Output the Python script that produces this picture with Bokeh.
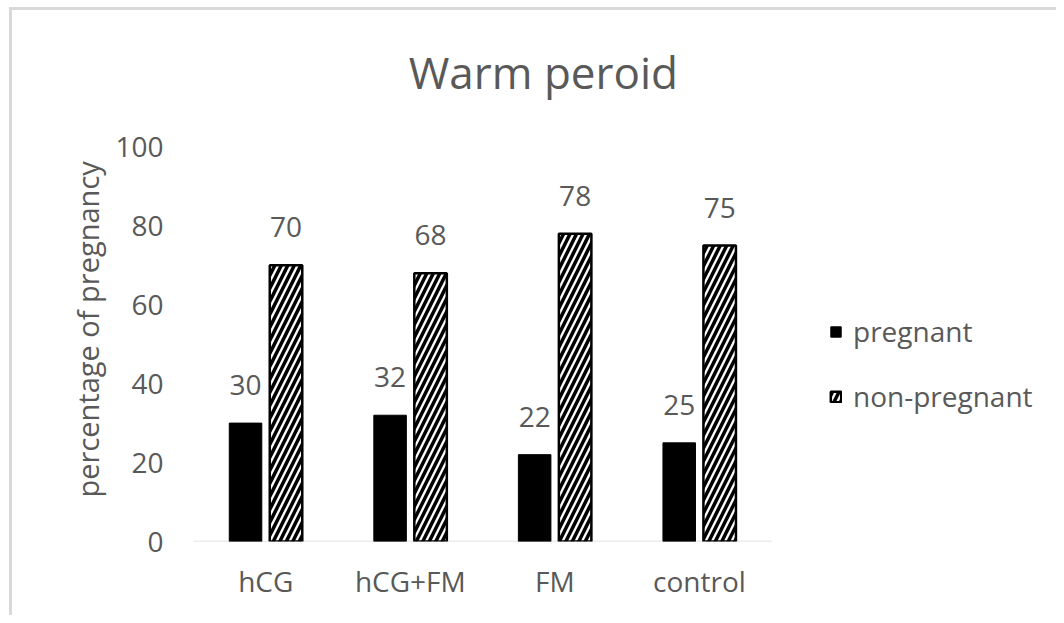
from bokeh.plotting import figure
from bokeh.models import ColumnDataSource, Range1d, Legend, LegendItem, FixedTicker, Label, Title
from bokeh.transform import dodge
from bokeh.core.properties import value
from bokeh.embed import file_html
from bokeh.resources import INLINE

categories = ["hCG", "hCG+FM", "FM", "control"]
pregnant = [30, 32, 22, 25]
non_pregnant = [70, 68, 78, 75]
y_ticks = [0, 20, 40, 60, 80, 100]

FONT = "Open Sans"
TXT = "#595959"

xpos = [i + 0.5 for i in range(len(categories))]
src = ColumnDataSource(dict(
    x=xpos,
    preg=pregnant,
    nonp=non_pregnant,
    preg_lbl=[str(v) for v in pregnant],
    nonp_lbl=[str(v) for v in non_pregnant],
))

# frame spans from the value axis to the right edge; headroom above 100 holds the title
p = figure(width=1056, height=615, x_range=Range1d(0, 5.97), y_range=Range1d(0, 137.1),
           output_backend="svg", toolbar_location=None,
           min_border_left=193, min_border_right=0, min_border_top=0,
           min_border_bottom=74, background_fill_alpha=0, border_fill_alpha=0,
           styles={"box-shadow": "inset 9px 7px 0 0 #ffffff, inset 12px 10px 0 0 #d9d9d9"})
p.outline_line_color = None
p.grid.grid_line_color = None

p.add_layout(Label(x=2.42, y=118.9, text="Warm peroid", text_font=FONT, text_font_size="44px",
                   text_color=TXT, text_align="center", text_baseline="middle"))

# baseline of the category axis (spans the categories only)
p.segment(x0=[0], x1=[len(categories)], y0=[0], y1=[0], line_color="#d9d9d9", line_width=1.5)

r1 = p.vbar(x=dodge("x", -0.14), top="preg", width=0.225, source=src,
            fill_color="black", line_color="black", line_width=1)
r2 = p.vbar(x=dodge("x", 0.14), top="nonp", width=0.225, source=src,
            fill_color="white", line_color="black", line_width=2.5,
            hatch_pattern="right_diagonal_line", hatch_color="black", hatch_weight=3.5, hatch_scale=13)

p.text(x=dodge("x", -0.14), y="preg", text="preg_lbl", source=src,
       text_font=value(FONT), text_font_size="28px", text_color=TXT,
       text_align="center", text_baseline="middle", y_offset=-38)
p.text(x=dodge("x", 0.14), y="nonp", text="nonp_lbl", source=src,
       text_font=value(FONT), text_font_size="28px", text_color=TXT,
       text_align="center", text_baseline="middle", y_offset=-38)

p.yaxis.ticker = FixedTicker(ticks=y_ticks)
p.yaxis.axis_line_color = None
p.yaxis.major_tick_line_color = None
p.yaxis.minor_tick_line_color = None
p.yaxis.major_tick_out = 0
p.yaxis.major_tick_in = 0
p.yaxis.major_label_standoff = 30
p.yaxis.major_label_text_font = FONT
p.yaxis.major_label_text_font_size = "28px"
p.yaxis.major_label_text_color = TXT

# value-axis title, placed along the 0-100 part of the axis
p.add_layout(Title(text="percentage of pregnancy", align="left", offset=44, standoff=12,
                   text_font=FONT, text_font_size="29px", text_font_style="normal",
                   text_color=TXT), "left")

p.xaxis.ticker = FixedTicker(ticks=xpos)
p.xaxis.major_label_overrides = {x: c for x, c in zip(xpos, categories)}
p.xaxis.axis_line_color = None
p.xaxis.major_tick_line_color = None
p.xaxis.minor_tick_line_color = None
p.xaxis.major_tick_out = 0
p.xaxis.major_tick_in = 0
p.xaxis.major_label_standoff = 20
p.xaxis.major_label_text_font = FONT
p.xaxis.major_label_text_font_size = "28px"
p.xaxis.major_label_text_color = TXT

legend = Legend(items=[LegendItem(label="pregnant", renderers=[r1]),
                       LegendItem(label="non-pregnant", renderers=[r2])],
                location=(636, 126), background_fill_alpha=0, border_line_color=None,
                label_text_font=FONT, label_text_font_size="28px", label_text_color=TXT,
                glyph_width=13, glyph_height=13, label_standoff=11, spacing=27, padding=0,
                margin=0)
p.add_layout(legend, "center")

open("out.html", "w").write(file_html(p, INLINE))
